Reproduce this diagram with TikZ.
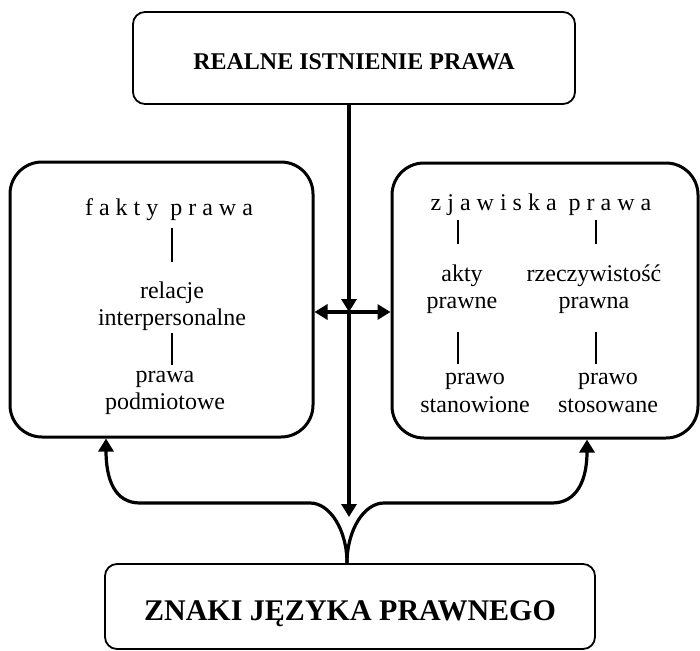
\documentclass[tikz,border=0pt]{standalone}
\usepackage{fontspec}
\setmainfont{Liberation Serif}
\usetikzlibrary{arrows.meta}
\tikzset{
  headbox/.style={draw, line width=1.8pt, rounded corners=12pt, inner sep=0pt},
  sidebox/.style={draw, line width=3pt, rounded corners=32pt},
  lbl/.style={align=center, inner sep=0pt, font=\fontsize{24}{27.5}\selectfont},
  tick/.style={line width=1.2pt},
  arr/.style={line width=3.2pt, -{Triangle[length=13pt,width=15pt]}},
  dblarr/.style={line width=3.2pt, {Triangle[length=13pt,width=15pt]}-{Triangle[length=13pt,width=15pt]}},
}
\begin{document}
\begin{tikzpicture}[x=1pt,y=-1pt]
  \useasboundingbox (0,0) rectangle (700,650);
  % boxes
  \node[headbox, minimum width=442pt, minimum height=92pt, text height=24pt,
        font=\fontsize{24}{28}\selectfont\bfseries] (realne) at (354,58) {REALNE ISTNIENIE PRAWA};
  \node[sidebox, minimum width=303pt, minimum height=275pt] (facts) at (161.5,299.5) {};
  \node[sidebox, minimum width=306pt, minimum height=275pt] (rules) at (545,300.5) {};
  \node[headbox, minimum width=490pt, minimum height=85pt, text height=34pt,
        font=\fontsize{30}{34}\selectfont\bfseries] (znaki) at (350,606.5) {ZNAKI JĘZYKA PRAWNEGO};
  % left box contents
  \node[lbl] (fakty) at (169,210) {f a k t y\ \ p r a w a};
  \node[lbl] (relacje) at (172,306) {relacje\\interpersonalne};
  \node[lbl] (podm) at (165,393) {prawa\\podmiotowe};
  \draw[tick, shorten <=7pt, shorten >=19pt] (fakty.south -| relacje) -- (relacje.north);
  \draw[tick, shorten <=2pt, shorten >=6pt] (relacje.south) -- (relacje.south |- podm.north);
  % right box contents
  \node[lbl] (zjaw) at (541,205) {z j a w i s k a\ \ p r a w a};
  \node[lbl] (akty) at (462,289) {akty\\prawne};
  \node[lbl] (rzecz) at (594,289) {rzeczywistość\\prawna};
  \node[lbl] (stan) at (475,393) {prawo\\stanowione};
  \node[lbl] (stos) at (608,393) {prawo\\stosowane};
  \draw[tick, shorten <=4pt, shorten >=20pt] ([xshift=-4pt]zjaw.south -| akty) -- ([xshift=-4pt]akty.north);
  \draw[tick, shorten <=4pt, shorten >=20pt] ([xshift=2pt]zjaw.south -| rzecz) -- ([xshift=2pt]rzecz.north);
  \draw[tick, shorten <=18pt, shorten >=9pt] ([xshift=-4pt]akty.south) -- ([xshift=-4pt]akty.south |- stan.north);
  \draw[tick, shorten <=18pt, shorten >=9pt] ([xshift=2pt]rzecz.south) -- ([xshift=2pt]rzecz.south |- stos.north);
  % connectors
  \coordinate (hub) at (349,312);
  \coordinate (fork) at (349,517);
  \draw[arr] (realne.south -| hub) -- (hub);
  \draw[arr] (hub) -- (fork);
  \draw[dblarr] (hub -| facts.east) -- (hub -| rules.west);
  \draw[arr] ([xshift=-3pt]znaki.north) .. controls (347,530) and (330,503) .. (310,503)
    -- (140,503) .. controls (115,503) and (106,480) .. ([xshift=-55.5pt]facts.south);
  \draw[arr] ([xshift=-3pt]znaki.north) .. controls (347,530) and (364,503) .. (384,503)
    -- (552,503) .. controls (577,503) and (587,480) .. ([xshift=42pt]rules.south);
\end{tikzpicture}
\end{document}
